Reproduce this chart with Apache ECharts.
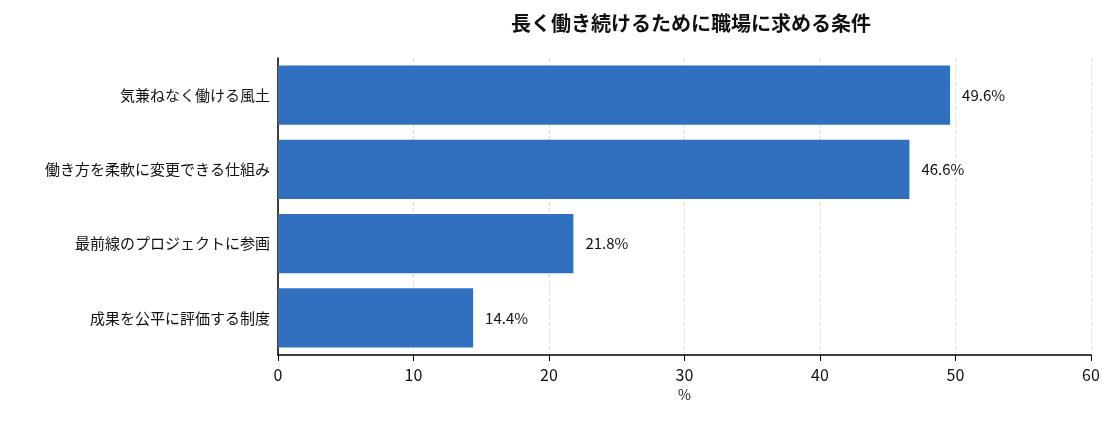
<!DOCTYPE html>
<html>
<head>
<meta charset="utf-8">
<script src="https://cdn.jsdelivr.net/npm/echarts@6/dist/echarts.min.js"></script>
<style>html,body{margin:0;padding:0;background:#fff}#chart{width:1116px;height:427px}</style>
</head>
<body>
<div id="chart"></div>
<script>
// 上から順
var categories = ['気兼ねなく働ける風土', '働き方を柔軟に変更できる仕組み', '最前線のプロジェクトに参画', '成果を公平に評価する制度'];
var values = [49.6, 46.6, 21.8, 14.4];
var xTicks = [0, 10, 20, 30, 40, 50, 60];

var chart = echarts.init(document.getElementById('chart'));
var font = '"Noto Sans CJK JP", "Noto Sans", sans-serif';
chart.setOption({
	title: {
		text: '長く働き続けるために職場に求める条件',
		left: 686, top: 8, textAlign: 'center',
		textStyle: { fontFamily: font, fontSize: 20, fontWeight: 'bold', color: '#111' }
	},
	grid: { left: 278, right: 25, top: 58, bottom: 72 },
	xAxis: {
		type: 'value', min: xTicks[0], max: xTicks[xTicks.length - 1], interval: 10,
		name: '%', nameLocation: 'middle', nameGap: 30,
		nameTextStyle: { fontFamily: font, fontSize: 14, color: '#222' },
		axisLine: { show: true, lineStyle: { color: '#000', width: 1.5 } },
		axisTick: { show: true, length: 6, lineStyle: { color: '#000' } },
		axisLabel: { fontFamily: font, fontSize: 16, color: '#111', margin: 12 },
		splitLine: { show: true, lineStyle: { color: '#e2e2e2', type: 'dashed' } }
	},
	yAxis: {
		type: 'category', data: categories, inverse: true,
		axisLine: { show: true, lineStyle: { color: '#000', width: 1.5 } },
		axisTick: { show: false },
		axisLabel: { fontFamily: font, fontSize: 15, color: '#111', margin: 8 }
	},
	series: [{
		type: 'bar', data: values, barCategoryGap: '20%',
		itemStyle: { color: '#3070be' },
		label: { show: true, position: 'right', distance: 12, formatter: '{c}%',
			fontFamily: font, fontSize: 15, color: '#111' }
	}]
});
</script>
</body>
</html>
